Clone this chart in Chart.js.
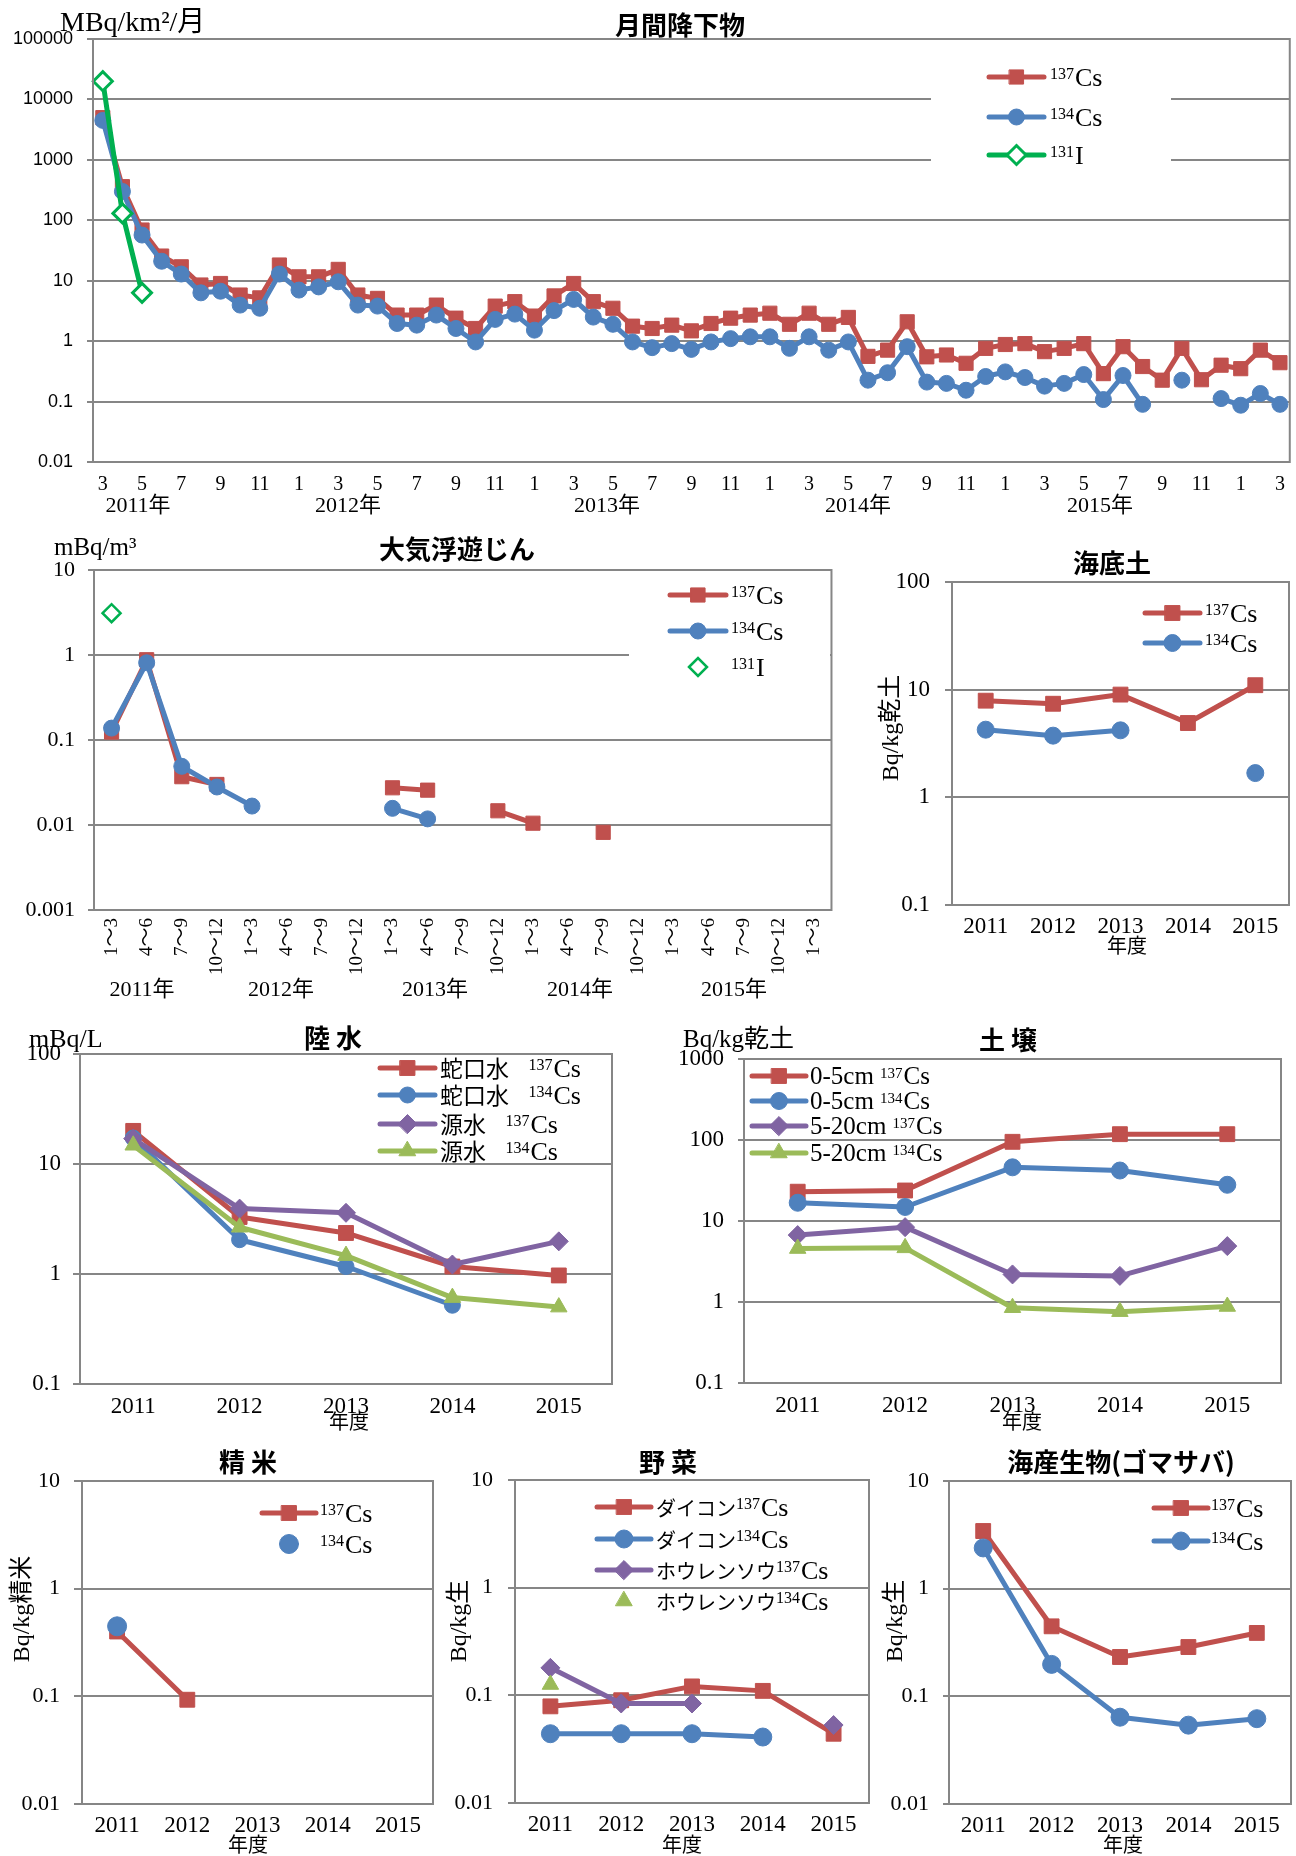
<!DOCTYPE html>
<html lang="ja">
<head>
<meta charset="utf-8">
<title>環境放射能モニタリング</title>
<script src="https://cdn.jsdelivr.net/npm/chart.js@4/dist/chart.umd.min.js"></script>
<style>
  html, body { margin: 0; padding: 0; background: #fff; }
  #page { position: relative; width: 1296px; height: 1856px; overflow: hidden; }
  .box { position: absolute; }
</style>
</head>
<body>
<div id="page">
  <div class="box" id="w-fall"><canvas id="fall"></canvas></div>
  <div class="box" id="w-dust"><canvas id="dust"></canvas></div>
  <div class="box" id="w-sed"><canvas id="sed"></canvas></div>
  <div class="box" id="w-water"><canvas id="water"></canvas></div>
  <div class="box" id="w-soil"><canvas id="soil"></canvas></div>
  <div class="box" id="w-rice"><canvas id="rice"></canvas></div>
  <div class="box" id="w-veg"><canvas id="veg"></canvas></div>
  <div class="box" id="w-fish"><canvas id="fish"></canvas></div>
</div>
<script>
// ---- data ----
// 月間降下物 (2011/3 - 2016/3, monthly)
const monthsA = [3,4,5,6,7,8,9,10,11,12,
  1,2,3,4,5,6,7,8,9,10,11,12,
  1,2,3,4,5,6,7,8,9,10,11,12,
  1,2,3,4,5,6,7,8,9,10,11,12,
  1,2,3,4,5,6,7,8,9,10,11,12,
  1,2,3];
const yearsA = ['2011年','2012年','2013年','2014年','2015年'];
const fallCs137 = [5000,360,69,25.6,17,8.5,9.0,5.8,5.2,18.2,
  11.6,11.6,15.4,5.8,5.1,2.7,2.7,3.95,2.4,1.62,3.8,4.5,
  2.6,5.6,9.0,4.5,3.5,1.77,1.62,1.84,1.48,1.96,2.4,2.7,
  2.9,1.9,2.9,1.9,2.47,0.56,0.71,2.09,0.55,0.59,0.43,0.76,
  0.88,0.91,0.67,0.76,0.91,0.29,0.81,0.38,0.226,0.76,0.23,0.4,
  0.35,0.71,0.44];
const fallCs134 = [4500,300,57,21,12.9,6.3,6.7,3.95,3.5,12.9,
  7.0,7.9,9.6,3.95,3.8,1.96,1.84,2.7,1.62,0.97,2.29,2.8,
  1.52,3.2,4.9,2.5,1.9,0.97,0.78,0.91,0.73,0.97,1.1,1.18,
  1.18,0.76,1.18,0.71,0.97,0.226,0.30,0.81,0.21,0.2,0.154,0.26,
  0.31,0.25,0.18,0.2,0.28,0.108,0.27,0.09,null,0.226,null,0.112,
  0.087,0.136,0.09];
const fallI131 = [20000,130,6.3];
const ticksA = [0.01,0.1,1,10,100,1000,10000,100000];

// 大気浮遊じん (quarterly)
const quartersB = ['1～3','4～6','7～9','10～12','1～3','4～6','7～9','10～12',
  '1～3','4～6','7～9','10～12','1～3','4～6','7～9','10～12',
  '1～3','4～6','7～9','10～12','1～3'];
const yearsB = ['2011年','2012年','2013年','2014年','2015年'];
const dustCs137 = [0.124,0.88,0.037,0.030,null,null,null,null,0.0274,0.0257,null,0.0147,0.0105,null,0.0082];
const dustCs134 = [0.138,0.81,0.049,0.028,0.0167,null,null,null,0.0157,0.0118];
const dustI131 = [3.1];
const ticksB = [0.001,0.01,0.1,1,10];

// 年度 charts
const fiscalYears = ['2011','2012','2013','2014','2015'];
const sedCs137 = [7.9,7.4,9.0,4.9,11.0];
const sedCs134 = [4.25,3.74,4.19,null,1.68];
const tapCs137 = [20,3.3,2.36,1.17,0.97];
const tapCs134 = [17.2,2.05,1.17,0.52,null];
const rawCs137 = [17,3.93,3.6,1.22,1.98];
const rawCs134 = [14.8,2.66,1.47,0.61,0.50];
const soilTopCs137 = [23,23.8,95,118,118];
const soilTopCs134 = [16.8,14.9,46,42,28];
const soilSubCs137 = [6.7,8.4,2.19,2.1,4.9];
const soilSubCs134 = [4.57,4.66,0.85,0.76,0.88];
const riceCs137 = [0.40,0.093];
const riceCs134 = [0.447];
const daikonCs137 = [0.079,0.09,0.121,0.11,0.044];
const daikonCs134 = [0.044,0.044,0.044,0.041,null];
const spinachCs137 = [0.18,0.084,0.084,null,0.053];
const spinachCs134 = [0.126];
const mackCs137 = [3.43,0.447,0.232,0.287,0.388];
const mackCs134 = [2.39,0.198,0.064,0.054,0.062];

// ---- style ----
const RED = '#C0504D', BLUE = '#4F81BD', GREEN = '#00B050', PURPLE = '#8064A2', LIME = '#9BBB59';
const GRID = '#868686';
const SERIF = "'Liberation Serif', 'Noto Sans CJK JP', serif";
const GOTHIC = "'Noto Sans CJK JP', sans-serif";
const SANS = "'Liberation Sans', Arial, sans-serif";
const LINE_W = 5;
Chart.defaults.color = '#000';

const MARK = {
  sq: { pointStyle: 'rect', pointRadius: 10.5 },
  ci: { pointStyle: 'circle', pointRadius: 8 },
  di: { pointStyle: 'rectRot', pointRadius: 9.5 },
  tr: { pointStyle: 'triangle', pointRadius: 9.5 }
};

function series(label, data, color, mark, extra) {
  return Object.assign({
    label, data,
    borderColor: color, backgroundColor: color,
    pointBackgroundColor: color, pointBorderColor: color,
    borderWidth: LINE_W, pointBorderWidth: 1,
    borderJoinStyle: 'round', borderCapStyle: 'round',
    tension: 0, spanGaps: false
  }, MARK[mark], extra || {});
}

// text with ^digits as superscript, CJK runs in gothic
function richText(ctx, str, x, y, size, cjkSize) {
  const base = y + size * 0.33;
  ctx.textAlign = 'left';
  ctx.textBaseline = 'alphabetic';
  for (const p of str.split(/(\^\d+)/)) {
    if (!p) continue;
    if (p[0] === '^') {
      ctx.font = Math.round(size * 0.6) + 'px ' + SERIF;
      ctx.fillText(p.slice(1), x, base - size * 0.27);
      x += ctx.measureText(p.slice(1)).width + 1;
      continue;
    }
    for (const q of p.split(/([\u3000-\u9fff\uff00-\uffef]+)/)) {
      if (!q) continue;
      const cjk = /[\u3000-\u9fff\uff00-\uffef]/.test(q);
      ctx.font = (cjk ? cjkSize : size) + 'px ' + (cjk ? GOTHIC : SERIF);
      ctx.fillText(q, x, base);
      x += ctx.measureText(q).width;
    }
  }
}

// frame, masks, legends and free texts (page coordinates)
const pagePlugin = {
  id: 'page',
  afterDatasetsDraw(chart, args, o) {
    const ctx = chart.ctx, ox = o.origin[0], oy = o.origin[1];
    ctx.save();
    if (o.mask) {
      ctx.fillStyle = '#fff';
      ctx.fillRect(o.mask[0] - ox, o.mask[1] - oy, o.mask[2], o.mask[3]);
    }
    const lg = o.legend;
    if (lg) {
      lg.rows.forEach((row, i) => {
        const ds = chart.data.datasets[i];
        const y = row[0] - oy, x1 = lg.x1 - ox, x2 = lg.x2 - ox;
        if (ds.showLine !== false) {
          ctx.strokeStyle = ds.borderColor;
          ctx.lineWidth = LINE_W;
          ctx.lineCap = 'round';
          ctx.beginPath(); ctx.moveTo(x1, y); ctx.lineTo(x2, y); ctx.stroke();
        }
        ctx.fillStyle = ds.pointBackgroundColor;
        ctx.strokeStyle = ds.pointBorderColor;
        ctx.lineWidth = ds.pointBorderWidth;
        Chart.helpers.drawPoint(ctx, { pointStyle: ds.pointStyle, radius: ds.pointRadius,
          borderWidth: ds.pointBorderWidth, rotation: 0 }, (x1 + x2) / 2, y);
        ctx.fillStyle = '#000';
        richText(ctx, row[1], lg.tx - ox, y, lg.size || 26, lg.cjk || 23);
      });
    }
    ctx.restore();
  },
  afterDraw(chart, args, o) {
    const ctx = chart.ctx, a = chart.chartArea, ox = o.origin[0], oy = o.origin[1];
    ctx.save();
    ctx.strokeStyle = GRID;
    ctx.lineWidth = 2;
    ctx.strokeRect(a.left, a.top, a.right - a.left, a.bottom - a.top);
    ctx.fillStyle = '#000';
    ctx.textBaseline = 'middle';
    (o.texts || []).forEach(t => {
      ctx.font = t.f;
      ctx.textAlign = t.a || 'center';
      ctx.save();
      ctx.translate(t.x - ox, t.y - oy);
      if (t.r) ctx.rotate(t.r);
      ctx.fillText(t.t, 0, 0);
      ctx.restore();
    });
    ctx.restore();
  }
};
Chart.register(pagePlugin);

function logAxis(min, max, ticks, font, tickLen, pad) {
  return {
    type: 'logarithmic', min, max,
    afterBuildTicks: s => { s.ticks = ticks.map(v => ({ value: v })); },
    ticks: { font, padding: pad, callback: v => String(v) },
    grid: { color: GRID, lineWidth: 2, tickLength: tickLen },
    border: { display: false }
  };
}

function catAxis(font, pad, tickOpts) {
  return {
    type: 'category', offset: true,
    ticks: Object.assign({ font, padding: pad, autoSkip: false, maxRotation: 0 }, tickOpts || {}),
    grid: { display: false, drawTicks: false },
    border: { display: false }
  };
}

// box = [x, y, w, h] of the canvas, area = [l, t, r, b] of the plot, both in page px
function build(id, box, area, labels, datasets, x, y, page) {
  const wrap = document.getElementById('w-' + id);
  wrap.style.left = box[0] + 'px';
  wrap.style.top = box[1] + 'px';
  wrap.style.width = box[2] + 'px';
  wrap.style.height = box[3] + 'px';
  y.afterFit = s => { s.width = area[0] - box[0]; };
  x.afterFit = s => { s.height = box[1] + box[3] - area[3]; };
  const n = datasets.length;
  datasets.forEach((d, i) => { d.order = n - i; });
  page.origin = [box[0], box[1]];
  return new Chart(document.getElementById(id), {
    type: 'line',
    data: { labels, datasets },
    options: {
      responsive: true, maintainAspectRatio: false, animation: false, events: [],
      layout: { autoPadding: false,
        padding: { left: 0, bottom: 0, top: area[1] - box[1], right: box[0] + box[2] - area[2] } },
      scales: { x, y },
      plugins: { legend: { display: false }, tooltip: { enabled: false }, page }
    }
  });
}

const TITLE = 'bold 26px ' + GOTHIC;
const NENDO = '20px ' + GOTHIC;
const tick22 = { family: SERIF, size: 22 };
const tick23 = { family: SERIF, size: 23 };

// 月間降下物
build('fall', [0, 0, 1296, 520], [93, 39, 1291, 462], monthsA, [
  series('137Cs', fallCs137, RED, 'sq', { pointRadius: 10 }),
  series('134Cs', fallCs134, BLUE, 'ci'),
  series('131I', fallI131, GREEN, 'di', { pointBackgroundColor: '#fff', pointBorderWidth: 3 })
],
  catAxis({ family: SERIF, size: 20 }, 11, { callback: (v, i) => monthsA[i] % 2 ? String(monthsA[i]) : '' }),
  logAxis(0.01, 100000, ticksA, { family: SANS, size: 18 }, 6, 14),
  {
    mask: [931, 42, 240, 136],
    legend: { x1: 989, x2: 1044, tx: 1050, rows: [[77, '^137Cs'], [117, '^134Cs'], [155, '^131I']] },
    texts: [
      { t: '月間降下物', x: 680, y: 25, f: TITLE },
      { t: 'MBq/km²/月', x: 60, y: 24, f: '28px ' + SERIF, a: 'left' }
    ].concat(yearsA.map((t, i) => ({ t, x: [138, 348, 607, 858, 1100][i], y: 506, f: '22px ' + SERIF })))
  });

// 大気浮遊じん
build('dust', [0, 527, 845, 480], [94, 570, 833, 910], quartersB, [
  series('137Cs', dustCs137, RED, 'sq', { pointRadius: 10 }),
  series('134Cs', dustCs134, BLUE, 'ci'),
  series('131I', dustI131, GREEN, 'di', { showLine: false, pointBackgroundColor: '#fff', pointBorderWidth: 2.5, pointRadius: 9 })
],
  catAxis({ family: SERIF, size: 19 }, 8, { minRotation: 90, maxRotation: 90 }),
  logAxis(0.001, 10, ticksB, tick22, 6, 13),
  {
    mask: [629, 575, 201, 110],
    legend: { x1: 670, x2: 726, tx: 731, rows: [[595, '^137Cs'], [631, '^134Cs'], [667, '^131I']] },
    texts: [
      { t: '大気浮遊じん', x: 457, y: 549, f: TITLE },
      { t: 'mBq/m³', x: 54, y: 548, f: '25px ' + SERIF, a: 'left' }
    ].concat(yearsB.map((t, i) => ({ t, x: [142, 281, 435, 580, 734][i], y: 990, f: '22px ' + SERIF })))
  });

// 海底土
build('sed', [850, 540, 446, 420], [952, 582, 1289, 905], fiscalYears, [
  series('137Cs', sedCs137, RED, 'sq'),
  series('134Cs', sedCs134, BLUE, 'ci', { pointRadius: 8.5 })
],
  catAxis(tick23, 8),
  logAxis(0.1, 100, [0.1, 1, 10, 100], tick23, 7, 15),
  {
    legend: { x1: 1145, x2: 1200, tx: 1205, rows: [[613, '^137Cs'], [643, '^134Cs']] },
    texts: [
      { t: '海底土', x: 1112, y: 563, f: TITLE },
      { t: 'Bq/kg乾土', x: 892, y: 728, f: '24px ' + SERIF, r: -Math.PI / 2 },
      { t: '年度', x: 1127, y: 945, f: NENDO }
    ]
  });

// 陸水
build('water', [0, 1015, 640, 420], [80, 1054, 612, 1384], fiscalYears, [
  series('蛇口水 137Cs', tapCs137, RED, 'sq'),
  series('蛇口水 134Cs', tapCs134, BLUE, 'ci'),
  series('源水 137Cs', rawCs137, PURPLE, 'di'),
  series('源水 134Cs', rawCs134, LIME, 'tr')
],
  catAxis(tick23, 9),
  logAxis(0.1, 100, [0.1, 1, 10, 100], tick23, 7, 12),
  {
    legend: { x1: 380, x2: 435, tx: 440, cjk: 23, rows: [[1068, '蛇口水   ^137Cs'], [1095, '蛇口水   ^134Cs'],
      [1124, '源水   ^137Cs'], [1151, '源水   ^134Cs']] },
    texts: [
      { t: '陸 水', x: 333, y: 1038, f: TITLE },
      { t: 'mBq/L', x: 29, y: 1040, f: '26px ' + SERIF, a: 'left' },
      { t: '年度', x: 349, y: 1421, f: NENDO }
    ]
  });

// 土壌
build('soil', [660, 1015, 636, 420], [744, 1059, 1281, 1383], fiscalYears, [
  series('0-5cm 137Cs', soilTopCs137, RED, 'sq'),
  series('0-5cm 134Cs', soilTopCs134, BLUE, 'ci', { pointRadius: 8.5 }),
  series('5-20cm 137Cs', soilSubCs137, PURPLE, 'di'),
  series('5-20cm 134Cs', soilSubCs134, LIME, 'tr')
],
  catAxis(tick23, 9),
  logAxis(0.1, 1000, [0.1, 1, 10, 100, 1000], tick23, 6, 14),
  {
    legend: { x1: 752, x2: 806, tx: 810, size: 25, rows: [[1076, '0-5cm ^137Cs'], [1101, '0-5cm ^134Cs'],
      [1126, '5-20cm ^137Cs'], [1153, '5-20cm ^134Cs']] },
    texts: [
      { t: '土 壌', x: 1008, y: 1040, f: TITLE },
      { t: 'Bq/kg乾土', x: 683, y: 1040, f: '25px ' + SERIF, a: 'left' },
      { t: '年度', x: 1022, y: 1421, f: NENDO }
    ]
  });

// 精米
build('rice', [0, 1440, 440, 416], [82, 1481, 433, 1804], fiscalYears, [
  series('137Cs', riceCs137, RED, 'sq'),
  series('134Cs', riceCs134, BLUE, 'ci', { showLine: false, pointRadius: 9.5 })
],
  catAxis(tick23, 8),
  logAxis(0.01, 10, [0.01, 0.1, 1, 10], tick22, 8, 14),
  {
    legend: { x1: 262, x2: 316, tx: 320, rows: [[1513, '^137Cs'], [1544, '^134Cs']] },
    texts: [
      { t: '精 米', x: 248, y: 1462, f: TITLE },
      { t: 'Bq/kg精米', x: 23, y: 1609, f: '24px ' + SERIF, r: -Math.PI / 2 },
      { t: '年度', x: 248, y: 1844, f: NENDO }
    ]
  });

// 野菜
build('veg', [440, 1440, 436, 416], [515, 1480, 869, 1803], fiscalYears, [
  series('ダイコン137Cs', daikonCs137, RED, 'sq'),
  series('ダイコン134Cs', daikonCs134, BLUE, 'ci', { pointRadius: 9 }),
  series('ホウレンソウ137Cs', spinachCs137, PURPLE, 'di'),
  series('ホウレンソウ134Cs', spinachCs134, LIME, 'tr', { showLine: false })
],
  catAxis(tick23, 8),
  logAxis(0.01, 10, [0.01, 0.1, 1, 10], tick22, 7, 15),
  {
    legend: { x1: 597, x2: 651, tx: 656, cjk: 20, rows: [[1507, 'ダイコン^137Cs'], [1539, 'ダイコン^134Cs'],
      [1570, 'ホウレンソウ^137Cs'], [1601, 'ホウレンソウ^134Cs']] },
    texts: [
      { t: '野 菜', x: 668, y: 1462, f: TITLE },
      { t: 'Bq/kg生', x: 460, y: 1621, f: '24px ' + SERIF, r: -Math.PI / 2 },
      { t: '年度', x: 682, y: 1844, f: NENDO }
    ]
  });

// 海産生物(ゴマサバ)
build('fish', [876, 1440, 420, 416], [949, 1481, 1291, 1804], fiscalYears, [
  series('137Cs', mackCs137, RED, 'sq'),
  series('134Cs', mackCs134, BLUE, 'ci', { pointRadius: 9 })
],
  catAxis(tick23, 8),
  logAxis(0.01, 10, [0.01, 0.1, 1, 10], tick22, 6, 14),
  {
    legend: { x1: 1154, x2: 1208, tx: 1211, rows: [[1508, '^137Cs'], [1541, '^134Cs']] },
    texts: [
      { t: '海産生物(ゴマサバ)', x: 1121, y: 1462, f: TITLE },
      { t: 'Bq/kg生', x: 896, y: 1621, f: '24px ' + SERIF, r: -Math.PI / 2 },
      { t: '年度', x: 1123, y: 1844, f: NENDO }
    ]
  });
</script>
</body>
</html>
